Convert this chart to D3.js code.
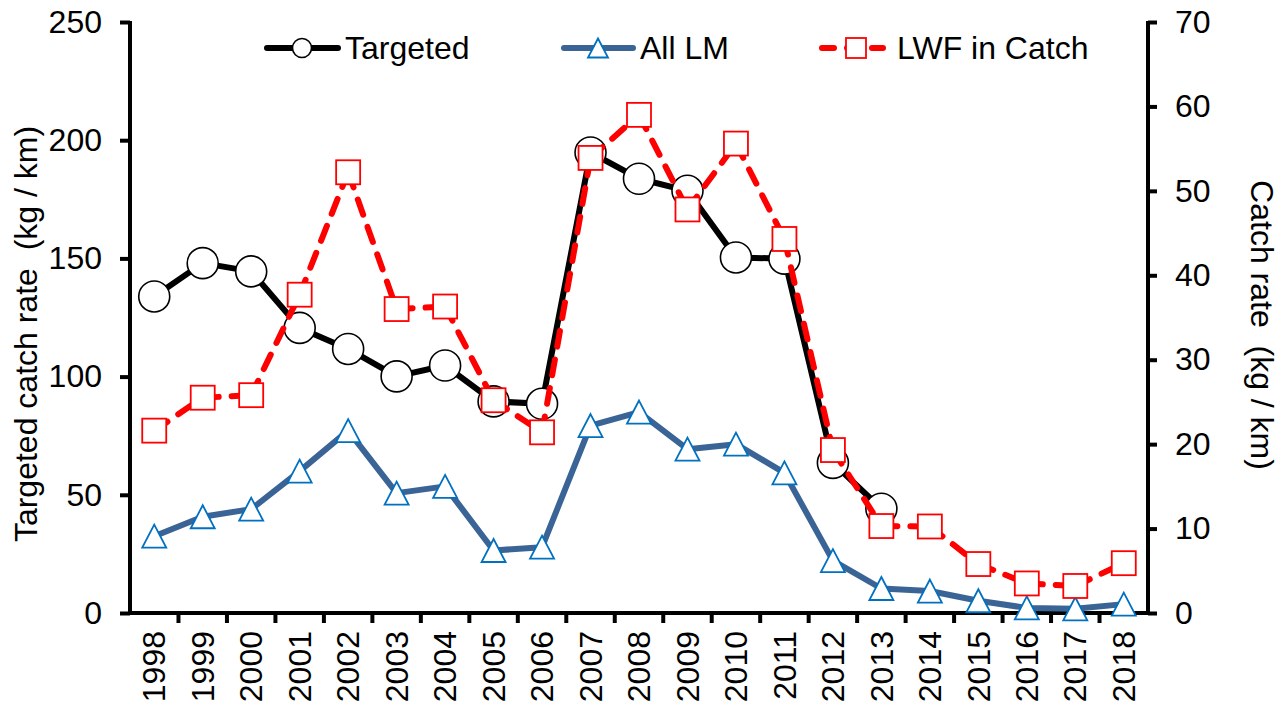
<!DOCTYPE html>
<html>
<head>
<meta charset="utf-8">
<script src="https://cdn.jsdelivr.net/npm/d3@7"></script>
<style>
  body { margin: 0; background: #fff; }
  text { font-family: Arial, "Liberation Sans", sans-serif; fill: #000; }
</style>
</head>
<body>
<div id="container"></div>
<script>
// chart data
var years = ["1998","1999","2000","2001","2002","2003","2004","2005","2006","2007",
             "2008","2009","2010","2011","2012","2013","2014","2015","2016","2017","2018"];
// left axis (kg / km), no values after 2013
var targeted = [133.9,148.0,144.5,120.6,111.7,100.1,104.7,89.5,88.5,194.8,
                183.7,178.6,150.4,149.9,63.5,44.1,null,null,null,null,null];
// right axis (kg / km)
var allLM = [9.1,11.4,12.3,16.8,21.6,14.2,15.0,7.4,7.8,22.2,
             23.8,19.4,20.0,16.6,6.2,2.9,2.6,1.45,0.6,0.5,1.05];
var lwf = [21.6,25.5,25.8,37.7,52.2,36.0,36.3,25.2,21.4,53.9,
           59.0,47.8,55.6,44.3,19.3,10.3,10.25,5.8,3.5,3.2,5.9];

var leftTicks = [0,50,100,150,200,250];
var rightTicks = [0,10,20,30,40,50,60,70];

var W = 1282, H = 706;
var pL = 130, pR = 1148, pT = 22, pB = 613;

var svg = d3.select("#container").append("svg")
	.attr("width", W)
	.attr("height", H);

var x = d3.scaleBand().domain(years).range([pL, pR]);
var yL = d3.scaleLinear().domain([0, 250]).range([pB, pT]);
var yR = d3.scaleLinear().domain([0, 70]).range([pB, pT]);
var cx = function(d, i) { return x(years[i]) + x.bandwidth()/2; };

// axes
var gL = svg.append("g")
	.attr("transform", "translate(" + pL + ",0)")
	.call(d3.axisLeft(yL).tickValues(leftTicks).tickSize(10).tickPadding(18));
var gR = svg.append("g")
	.attr("transform", "translate(" + pR + ",0)")
	.call(d3.axisRight(yR).tickValues(rightTicks).tickSize(9).tickPadding(18));
var gX = svg.append("g")
	.attr("transform", "translate(0," + pB + ")")
	.call(d3.axisBottom(x).tickSize(0).tickPadding(18));

// x ticks sit between the categories
gX.selectAll(".bnd").data(years.slice(1)).enter()
	.append("line")
	.attr("x1", function(d) { return x(d); })
	.attr("x2", function(d) { return x(d); })
	.attr("y1", 0).attr("y2", 10)
	.attr("stroke", "#000").attr("stroke-width", 4);

[gL, gR, gX].forEach(function(g) {
	g.select(".domain").attr("stroke", "#000").attr("stroke-width", 4);
	g.selectAll(".tick line").attr("stroke", "#000").attr("stroke-width", 4);
	g.selectAll("text").style("font-size", "32px").attr("fill", "#000");
});
gL.select(".domain").attr("d", "M0," + (pT-1) + "V" + (pB+2));
gR.select(".domain").attr("d", "M0," + (pT-1) + "V" + (pB+2));
gX.select(".domain").attr("d", "M" + (pL-2) + ",0H" + (pR+2));

gX.selectAll(".tick text")
	.attr("transform", "rotate(-90)")
	.attr("text-anchor", "end")
	.attr("x", -18)
	.attr("y", 0)
	.attr("dy", "0.35em");

// axis titles
svg.append("text")
	.attr("transform", "translate(37,334) rotate(-90)")
	.attr("text-anchor", "middle")
	.style("font-size", "32px")
	.style("white-space", "pre")
	.text("Targeted catch rate  (kg / km)");
svg.append("text")
	.attr("transform", "translate(1251,325) rotate(90)")
	.attr("text-anchor", "middle")
	.style("font-size", "32px")
	.style("white-space", "pre")
	.text("Catch rate  (kg / km)");

// series
var blue = "#3A6496", blueMark = "#0070C0", red = "#FF0000";

function tri(w, h) {
	return "M0," + (-h/2) + "L" + (w/2) + "," + (h/2) + "L" + (-w/2) + "," + (h/2) + "Z";
}

// All LM
var lineLM = d3.line().x(cx).y(function(d) { return yR(d); });
svg.append("path")
	.attr("d", lineLM(allLM))
	.attr("fill", "none").attr("stroke", blue).attr("stroke-width", 6)
	.attr("stroke-linejoin", "round");
svg.selectAll(".tri").data(allLM).enter()
	.append("path").attr("class", "tri")
	.attr("d", tri(24, 23))
	.attr("transform", function(d, i) { return "translate(" + cx(d, i) + "," + yR(d) + ")"; })
	.attr("fill", "#fff").attr("stroke", blueMark).attr("stroke-width", 1.8);

// Targeted
var lineT = d3.line().defined(function(d) { return d != null; })
	.x(cx).y(function(d) { return yL(d); });
svg.append("path")
	.attr("d", lineT(targeted))
	.attr("fill", "none").attr("stroke", "#000").attr("stroke-width", 6)
	.attr("stroke-linejoin", "round");
var tPts = targeted.map(function(v, i) { return {v: v, i: i}; })
	.filter(function(d) { return d.v != null; });
svg.selectAll(".circ").data(tPts).enter()
	.append("circle").attr("class", "circ")
	.attr("cx", function(d) { return cx(d.v, d.i); })
	.attr("cy", function(d) { return yL(d.v); })
	.attr("r", 15.5)
	.attr("fill", "#fff").attr("stroke", "#000").attr("stroke-width", 1.6);

// LWF in Catch - dash pattern restarts on every segment
var segs = d3.pairs(lwf.map(function(v, i) { return [cx(v, i), yR(v)]; }));
svg.selectAll(".seg").data(segs).enter()
	.append("path").attr("class", "seg")
	.attr("d", function(s) { return d3.line()(s); })
	.attr("fill", "none").attr("stroke", red).attr("stroke-width", 6)
	.attr("stroke-dasharray", "16,13").attr("stroke-linecap", "round");
svg.selectAll(".sq").data(lwf).enter()
	.append("rect").attr("class", "sq")
	.attr("x", function(d, i) { return cx(d, i) - 12; })
	.attr("y", function(d) { return yR(d) - 12; })
	.attr("width", 24).attr("height", 24)
	.attr("fill", "#fff").attr("stroke", red).attr("stroke-width", 1.8);

// legend
var leg = svg.append("g");
leg.append("line").attr("x1", 267).attr("x2", 338).attr("y1", 48).attr("y2", 48)
	.attr("stroke", "#000").attr("stroke-width", 6).attr("stroke-linecap", "round");
leg.append("circle").attr("cx", 302).attr("cy", 48).attr("r", 9.5)
	.attr("fill", "#fff").attr("stroke", "#000").attr("stroke-width", 1.6);
leg.append("text").attr("x", 345).attr("y", 59).style("font-size", "32px").text("Targeted");

leg.append("line").attr("x1", 564).attr("x2", 633).attr("y1", 48).attr("y2", 48)
	.attr("stroke", blue).attr("stroke-width", 6).attr("stroke-linecap", "round");
leg.append("path").attr("d", tri(20, 19)).attr("transform", "translate(598,48)")
	.attr("fill", "#fff").attr("stroke", blueMark).attr("stroke-width", 1.8);
leg.append("text").attr("x", 640).attr("y", 59).style("font-size", "32px").text("All LM");

leg.append("line").attr("x1", 822).attr("x2", 883).attr("y1", 48).attr("y2", 48)
	.attr("stroke", red).attr("stroke-width", 6)
	.attr("stroke-dasharray", "12,13").attr("stroke-linecap", "round");
leg.append("rect").attr("x", 846).attr("y", 38).attr("width", 20).attr("height", 20)
	.attr("fill", "#fff").attr("stroke", red).attr("stroke-width", 1.8);
leg.append("text").attr("x", 897).attr("y", 59).style("font-size", "32px").text("LWF in Catch");
</script>
</body>
</html>
